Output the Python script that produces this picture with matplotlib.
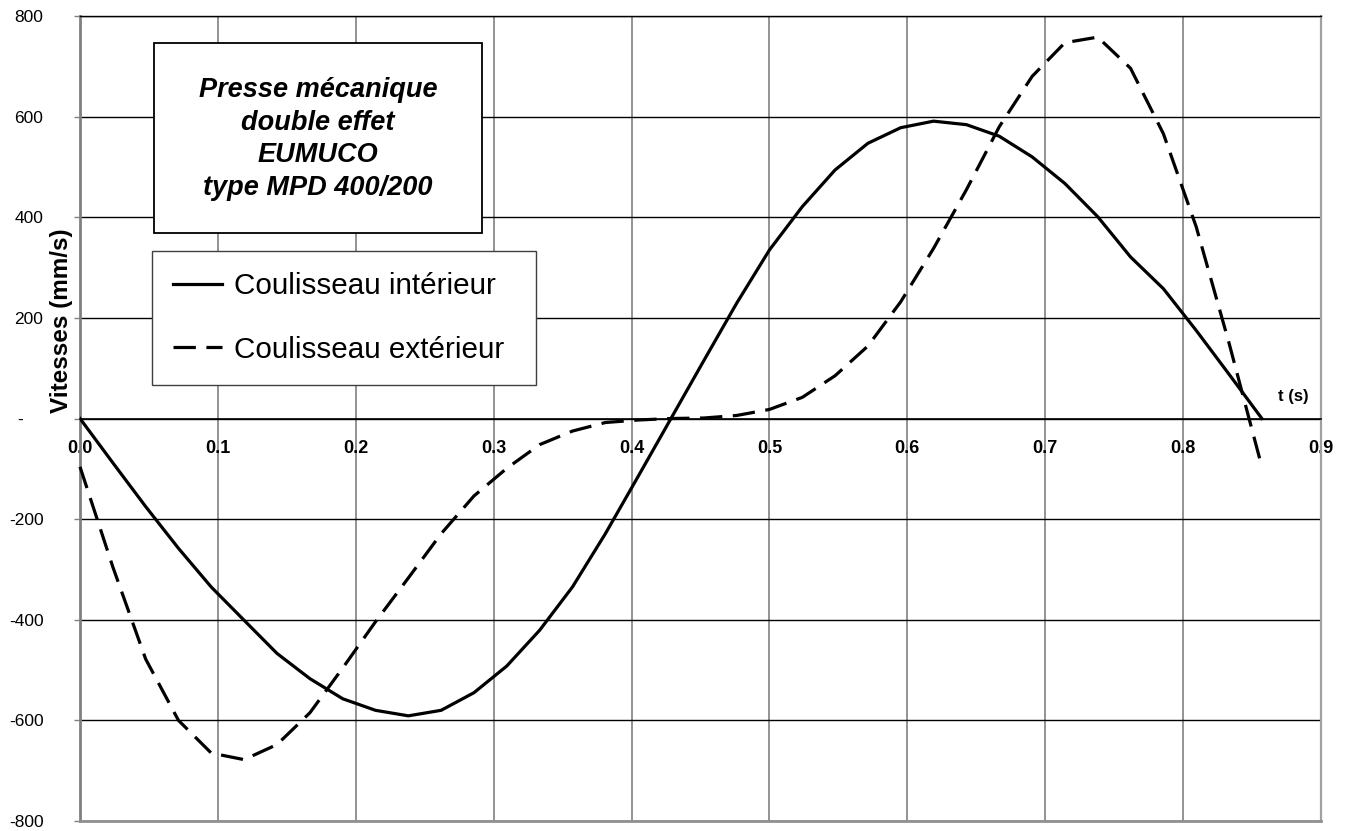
import matplotlib
matplotlib.use('Agg')
import matplotlib.pyplot as plt
from matplotlib.patches import Rectangle

plt.rcParams['font.family'] = ['Liberation Sans', 'DejaVu Sans']

# ---------------- data ----------------
t_s = [0.0000, 0.0238, 0.0476, 0.0714, 0.0952, 0.1190, 0.1429, 0.1667, 0.1905,
       0.2143, 0.2381, 0.2619, 0.2857, 0.3095, 0.3333, 0.3571, 0.3810, 0.4048,
       0.4286, 0.4524, 0.4762, 0.5000, 0.5238, 0.5476, 0.5714, 0.5952, 0.6190,
       0.6429, 0.6667, 0.6905, 0.7143, 0.7381, 0.7619, 0.7857, 0.8095, 0.8333,
       0.8571]

v_interieur = [0, -88, -175, -258, -335, -401, -467, -517, -557,
               -580, -591, -580, -545, -492, -421, -335, -229, -115,
               0, 115, 229, 335, 421, 494, 547, 578, 591,
               584, 561, 520, 467, 401, 321, 258, 175, 88,
               0]

v_exterieur = [-96, -295, -478, -600, -665, -678, -648, -585, -496,
               -404, -317, -229, -154, -99, -52, -25, -8, -3,
               0, 1, 6, 18, 42, 85, 144, 232, 338,
               455, 580, 680, 747, 758, 696, 566, 381, 150,
               -96]

x_ticks = [0.0, 0.1, 0.2, 0.3, 0.4, 0.5, 0.6, 0.7, 0.8, 0.9]
x_ticklabels = ['0.0', '0.1', '0.2', '0.3', '0.4', '0.5', '0.6', '0.7', '0.8', '0.9']
y_ticks = [-800, -600, -400, -200, 0, 200, 400, 600, 800]
y_ticklabels = ['-800', '-600', '-400', '-200', '-    ', '200', '400', '600', '800']

series_labels = ['Coulisseau intérieur', 'Coulisseau extérieur']
title_text = 'Presse mécanique\ndouble effet\nEUMUCO\ntype MPD 400/200'
y_title = 'Vitesses (mm/s)'
x_title = 't (s)'

# ---------------- figure ----------------
W, H = 1352, 831
fig = plt.figure(figsize=(W / 100, H / 100), dpi=100)
L, R, T, B = 80, 1321, 16, 821
ax = fig.add_axes([L / W, 1 - B / H, (R - L) / W, (B - T) / H])

ax.plot(t_s, v_interieur, color='black', lw=2.3, label=series_labels[0],
        solid_joinstyle='round', zorder=5)
ax.plot(t_s, v_exterieur, color='black', lw=2.3, dashes=(7.0, 3.3),
        label=series_labels[1], zorder=5, clip_on=False)

ax.set_xlim(0, 0.9)
ax.set_ylim(-800, 800)

ax.set_axisbelow(True)
ax.grid(axis='x', color='#808080', lw=1.2)
ax.grid(axis='y', color='black', lw=1.0)

ax.spines['left'].set_color('#808080')
ax.spines['left'].set_linewidth(2.0)
ax.spines['right'].set_color('#a0a0a0')
ax.spines['right'].set_linewidth(1.6)
ax.spines['top'].set_color('black')
ax.spines['top'].set_linewidth(1.0)
ax.spines['bottom'].set_position(('data', 0))
ax.spines['bottom'].set_color('black')
ax.spines['bottom'].set_linewidth(1.2)
ax.axhline(-800, color='#909090', lw=2.0, clip_on=False, zorder=3)

ax.tick_params(axis='x', length=0, pad=15.5)
ax.tick_params(axis='y', length=4.3, width=1.0, color='#808080', pad=22)

ax.set_xticks(x_ticks)
ax.set_xticklabels(x_ticklabels)
ax.set_yticks(y_ticks)
ax.set_yticklabels(y_ticklabels)
for lab in ax.get_xticklabels():
    lab.set_fontsize(13)
    lab.set_fontweight('bold')
for lab in ax.get_yticklabels():
    lab.set_fontsize(12.5)

ax.set_ylabel(y_title, fontsize=17.5, fontweight='bold')
ax.yaxis.set_label_coords(-0.006, 0.622)

fig.text(1293 / W, 1 - 396 / H, x_title, fontsize=12, fontweight='bold',
         ha='center', va='center')

# title box
fig.patches.append(Rectangle((154 / W, 1 - 233 / H), 328 / W, 190 / H,
                             transform=fig.transFigure, facecolor='white',
                             edgecolor='black', lw=1.3, zorder=6))
fig.text(318 / W, 1 - 139 / H, title_text, fontsize=19.5, fontweight='bold',
         style='italic', ha='center', va='center', linespacing=1.34, zorder=7)

# legend
leg = ax.legend(loc='upper left',
                bbox_to_anchor=(152 / W, 1 - 251 / H - 0.0001, 384 / W, 0.0001),
                bbox_transform=fig.transFigure, mode='expand', fontsize=21.3,
                frameon=True, fancybox=False, edgecolor='#404040', framealpha=1,
                borderpad=0.72, labelspacing=1.2, handlelength=1.65,
                handletextpad=0.4, borderaxespad=0)
leg.get_frame().set_linewidth(1.0)
leg.set_zorder(8)

fig.savefig('out.png', dpi=100, facecolor='white')
